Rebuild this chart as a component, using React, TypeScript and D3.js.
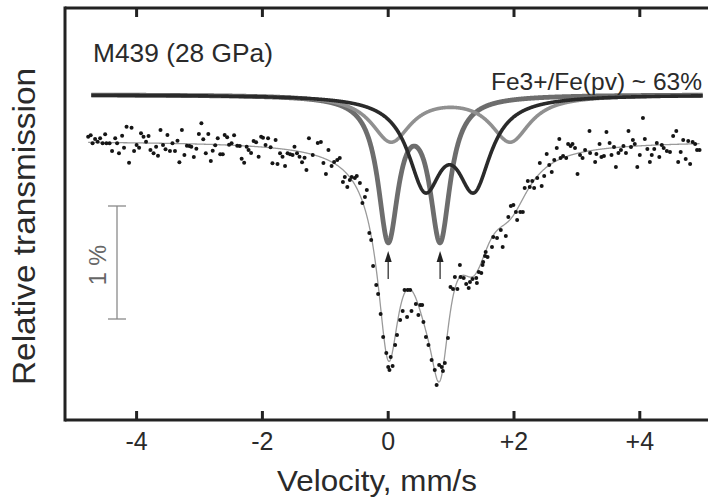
import React from "react";
import * as d3 from "d3";

// ---------- data ----------
const velocityTicks = [-4, -2, 0, 2, 4];
const tickLabels = ["-4", "-2", "0", "+2", "+4"];

// Fitted Lorentzian doublets: line positions (mm/s), half-width (mm/s), depth per line (%)
const sharpLines = [0.0, 0.825];
const sharpHalfWidth = 0.195;
const sharpDepth = 1.245;

const darkLines = [0.585, 1.365];
const darkHalfWidth = 0.325;
const darkDepth = 0.757;

const lightLines = [0.045, 1.94];
const lightHalfWidth = 0.38;
const lightDepth = 0.405;

const baselineTransmission = 100; // %
const componentOffset = 100.41; // components drawn shifted up
const fitRange = [-4.77, 4.95];
const componentRange = [-4.72, 5.0];

// measured spectrum: [velocity mm/s, relative transmission %]
const measured: [number, number][] = [
  [-4.77, 100.038], [-4.73, 100.05], [-4.7, 99.98], [-4.66, 100.018], [-4.62, 99.994], [-4.58, 100.024],
  [-4.54, 99.98], [-4.5, 100.059], [-4.48, 99.98], [-4.43, 99.98], [-4.39, 99.912], [-4.34, 100.024],
  [-4.31, 99.98], [-4.28, 99.891], [-4.23, 100.047], [-4.2, 99.941], [-4.16, 100.127], [-4.12, 99.808],
  [-4.08, 100.118], [-4.04, 99.912], [-4.0, 99.965], [-3.96, 99.941], [-3.93, 100.068], [-3.89, 100.038],
  [-3.85, 99.994], [-3.81, 100.044], [-3.78, 99.92], [-3.73, 99.891], [-3.69, 99.95], [-3.66, 99.87],
  [-3.62, 100.097], [-3.58, 99.965], [-3.54, 99.927], [-3.51, 100.053], [-3.47, 99.912], [-3.43, 99.98],
  [-3.39, 99.912], [-3.35, 100.003], [-3.32, 99.812], [-3.28, 100.097], [-3.24, 99.876], [-3.2, 99.958],
  [-3.16, 99.956], [-3.13, 99.95], [-3.09, 99.858], [-3.05, 99.932], [-3.01, 100.062], [-2.97, 100.157],
  [-2.94, 100.015], [-2.9, 99.891], [-2.86, 100.062], [-2.82, 99.823], [-2.79, 99.914], [-2.75, 99.962],
  [-2.71, 100.024], [-2.67, 99.882], [-2.63, 99.882], [-2.6, 100.053], [-2.56, 100.033], [-2.53, 99.967],
  [-2.49, 99.98], [-2.45, 100.05], [-2.4, 99.958], [-2.36, 99.956], [-2.33, 99.843], [-2.29, 99.808],
  [-2.25, 99.95], [-2.22, 99.92], [-2.18, 99.894], [-2.14, 100.0], [-2.1, 99.988], [-2.06, 99.861],
  [-2.02, 100.038], [-1.99, 100.029], [-1.95, 99.965], [-1.91, 100.024], [-1.87, 99.944], [-1.84, 99.803],
  [-1.79, 100.009], [-1.76, 99.796], [-1.72, 99.891], [-1.68, 99.861], [-1.64, 99.779], [-1.6, 99.891],
  [-1.56, 99.882], [-1.52, 99.876], [-1.49, 99.95], [-1.45, 99.891], [-1.41, 99.861], [-1.37, 99.812],
  [-1.33, 99.852], [-1.3, 99.743], [-1.26, 100.024],
  [-1.2, 99.876], [-1.12, 99.982], [-1.07, 99.991], [-1.03, 99.805], [-0.99, 99.708], [-0.95, 99.92],
  [-0.9, 99.779], [-0.86, 99.814], [-0.81, 99.832], [-0.77, 99.85], [-0.72, 99.637], [-0.69, 99.681],
  [-0.65, 99.593], [-0.61, 99.655], [-0.58, 99.681], [-0.53, 99.673], [-0.5, 99.69], [-0.45, 99.628],
  [-0.41, 99.451], [-0.37, 99.504], [-0.34, 99.566], [-0.3, 99.186], [-0.27, 99.124], [-0.24, 98.894],
  [-0.19, 98.726], [-0.16, 98.646], [-0.12, 98.469], [-0.08, 98.265], [-0.03, 98.124], [0.0, 98.0],
  [0.02, 97.973], [0.04, 98.088], [0.07, 98.009], [0.11, 98.195], [0.14, 98.283], [0.19, 98.416],
  [0.23, 98.496], [0.26, 98.681], [0.3, 98.442], [0.31, 98.681], [0.35, 98.681], [0.37, 98.496],
  [0.44, 98.558], [0.48, 98.46], [0.51, 98.549], [0.54, 98.549], [0.56, 98.398], [0.6, 98.265],
  [0.64, 98.195], [0.69, 98.062], [0.74, 97.973], [0.77, 97.841], [0.81, 98.018], [0.85, 98.0],
  [0.87, 97.965], [0.9, 98.035], [0.95, 98.257], [0.99, 98.708], [1.03, 98.69], [1.06, 98.796],
  [1.1, 98.69], [1.14, 98.903], [1.15, 98.796], [1.2, 98.788], [1.24, 98.735], [1.28, 98.699],
  [1.3, 98.752], [1.34, 98.779], [1.4, 98.788], [1.41, 98.743], [1.44, 98.841], [1.48, 98.832],
  [1.5, 98.903], [1.51, 98.929], [1.54, 98.982], [1.55, 99.018], [1.58, 98.973], [1.65, 99.062],
  [1.67, 99.15], [1.73, 99.142], [1.79, 99.212], [1.82, 99.062], [1.87, 99.159], [1.91, 99.327],
  [1.95, 99.425], [1.99, 99.434], [2.03, 99.372], [2.05, 99.301], [2.1, 99.372], [2.14, 99.372],
  [2.17, 99.584], [2.22, 99.646], [2.25, 99.593], [2.29, 99.646], [2.32, 99.584], [2.37, 99.673],
  [2.41, 99.805], [2.44, 99.602], [2.48, 99.69], [2.52, 99.885], [2.56, 99.788], [2.6, 99.726],
  [2.64, 99.832], [2.68, 99.938], [2.72, 100.018], [2.74, 99.85], [2.78, 99.867], [2.83, 99.85],
  [2.86, 99.973], [2.9, 99.956], [2.93, 99.973], [2.97, 99.938], [3.01, 99.708], [3.05, 99.876],
  [3.09, 99.85], [3.13, 99.92], [3.2, 100.088], [3.21, 99.894], [3.29, 99.814], [3.31, 99.885],
  [3.36, 99.973], [3.39, 99.858], [3.43, 99.867], [3.47, 100.08], [3.52, 99.982], [3.55, 99.876],
  [3.59, 99.947], [3.62, 99.77], [3.66, 99.894], [3.7, 99.92], [3.74, 99.956], [3.78, 99.894],
  [3.82, 100.088], [3.86, 99.947], [3.89, 100.009], [3.92, 99.973], [3.96, 99.77], [4.0, 99.876],
  [4.05, 100.204], [4.08, 100.018], [4.12, 99.929], [4.16, 99.814], [4.19, 99.876], [4.23, 99.929],
  [4.27, 99.982], [4.31, 99.858], [4.35, 99.965], [4.38, 99.938], [4.43, 99.912], [4.48, 99.903],
  [4.53, 100.044], [4.58, 100.088], [4.61, 99.814], [4.65, 99.903], [4.69, 100.009], [4.73, 99.841],
  [4.77, 100.0], [4.8, 99.796], [4.84, 99.991], [4.88, 99.973], [4.91, 99.92], [4.95, 99.92],
];

// ---------- layout ----------
const W = 708;
const H = 497;
const frameLeft = 65;
const frameTop = 8;
const frameBottom = 420;
const FONT = "'Liberation Sans', Arial, Helvetica, sans-serif";

const x = d3.scaleLinear().domain([-4, 4]).range([136.6, 639.8]);
const y = d3.scaleLinear().domain([100, 99]).range([141, 254]);

function lorentzDoublet(v: number, lines: number[], hw: number, depth: number) {
  return lines.reduce((s, c) => s + depth / (1 + ((v - c) / hw) ** 2), 0);
}
const sharpAbs = (v: number) => lorentzDoublet(v, sharpLines, sharpHalfWidth, sharpDepth);
const darkAbs = (v: number) => lorentzDoublet(v, darkLines, darkHalfWidth, darkDepth);
const lightAbs = (v: number) => lorentzDoublet(v, lightLines, lightHalfWidth, lightDepth);

export default function App() {
  const fitV = d3.range(fitRange[0], fitRange[1] + 1e-9, 0.005);
  const compV = d3.range(componentRange[0], componentRange[1] + 1e-9, 0.005);
  const line = d3
    .line<[number, number]>()
    .x((d) => x(d[0]))
    .y((d) => y(d[1]));

  const fitPath = line(fitV.map((v) => [v, baselineTransmission - sharpAbs(v) - darkAbs(v) - lightAbs(v)]));
  const comp = (f: (v: number) => number) => line(compV.map((v) => [v, componentOffset - f(v)]));

  const scaleBarX = 117;
  const barTop = 206;
  const barBottom = barTop + (y(99) - y(100));

  return (
    <svg
      width={W}
      height={H}
      style={{ position: "absolute", left: 0, top: 0, background: "#fff" }}
      fontFamily={FONT}
    >
      <rect x={0} y={0} width={W} height={H} fill="#fff" />

      {/* components */}
      <path d={comp(sharpAbs) || ""} fill="none" stroke="#6d6d6d" strokeWidth={4.8} />
      <path d={comp(lightAbs) || ""} fill="none" stroke="#909090" strokeWidth={3.6} />
      <path d={comp(darkAbs) || ""} fill="none" stroke="#2a2a2a" strokeWidth={3.6} />

      {/* fit */}
      <path d={fitPath || ""} fill="none" stroke="#9a9a9a" strokeWidth={1.3} />

      {/* data */}
      {measured.map((d, i) => (
        <circle key={i} cx={x(d[0])} cy={y(d[1])} r={2} fill="#151515" />
      ))}

      {/* arrows at sharp doublet lines */}
      {sharpLines.map((c, i) => (
        <g key={i}>
          <line x1={x(c)} x2={x(c)} y1={279} y2={258} stroke="#333" strokeWidth={1.3} />
          <path d={`M${x(c)},251 L${x(c) - 3.5},262 L${x(c) + 3.5},262 Z`} fill="#222" />
        </g>
      ))}

      {/* 1% scale bar */}
      <g stroke="#8a8a8a" strokeWidth={1.3}>
        <line x1={scaleBarX} x2={scaleBarX} y1={barTop} y2={barBottom} />
        <line x1={108} x2={126} y1={barTop} y2={barTop} />
        <line x1={108} x2={126} y1={barBottom} y2={barBottom} />
      </g>
      <text transform={`translate(106,265) rotate(-90)`} textAnchor="middle" fontSize={23.5} fill="#666">
        1 %
      </text>

      {/* frame */}
      <g stroke="#222" strokeWidth={3} fill="none">
        <line x1={frameLeft} x2={frameLeft} y1={frameTop - 1.5} y2={frameBottom + 1.5} />
        <line x1={frameLeft} x2={W} y1={frameTop} y2={frameTop} />
        <line x1={frameLeft} x2={W} y1={frameBottom} y2={frameBottom} />
      </g>
      {velocityTicks.map((t, i) => (
        <g key={t}>
          <line x1={x(t)} x2={x(t)} y1={frameTop} y2={frameTop + 9} stroke="#222" strokeWidth={3} />
          <line x1={x(t)} x2={x(t)} y1={frameBottom} y2={frameBottom - 9} stroke="#222" strokeWidth={3} />
          <text x={x(t)} y={450} textAnchor="middle" fontSize={25} fill="#2a2a2a">
            {tickLabels[i]}
          </text>
        </g>
      ))}

      {/* titles */}
      <text x={377} y={491} textAnchor="middle" fontSize={30} fill="#2a2a2a" textLength={200} lengthAdjust="spacingAndGlyphs">
        Velocity, mm/s
      </text>
      <text
        transform="translate(35,226.5) rotate(-90)"
        textAnchor="middle"
        fontSize={30.5}
        fill="#2a2a2a"
        textLength={317}
        lengthAdjust="spacingAndGlyphs"
      >
        Relative transmission
      </text>

      {/* annotations */}
      <text x={93} y={62} fontSize={25} fill="#2a2a2a" textLength={180} lengthAdjust="spacingAndGlyphs">
        M439 (28 GPa)
      </text>
      <text x={702} y={90} textAnchor="end" fontSize={24.5} fill="#2a2a2a">
        Fe3+/Fe(pv) ~ 63%
      </text>
    </svg>
  );
}
